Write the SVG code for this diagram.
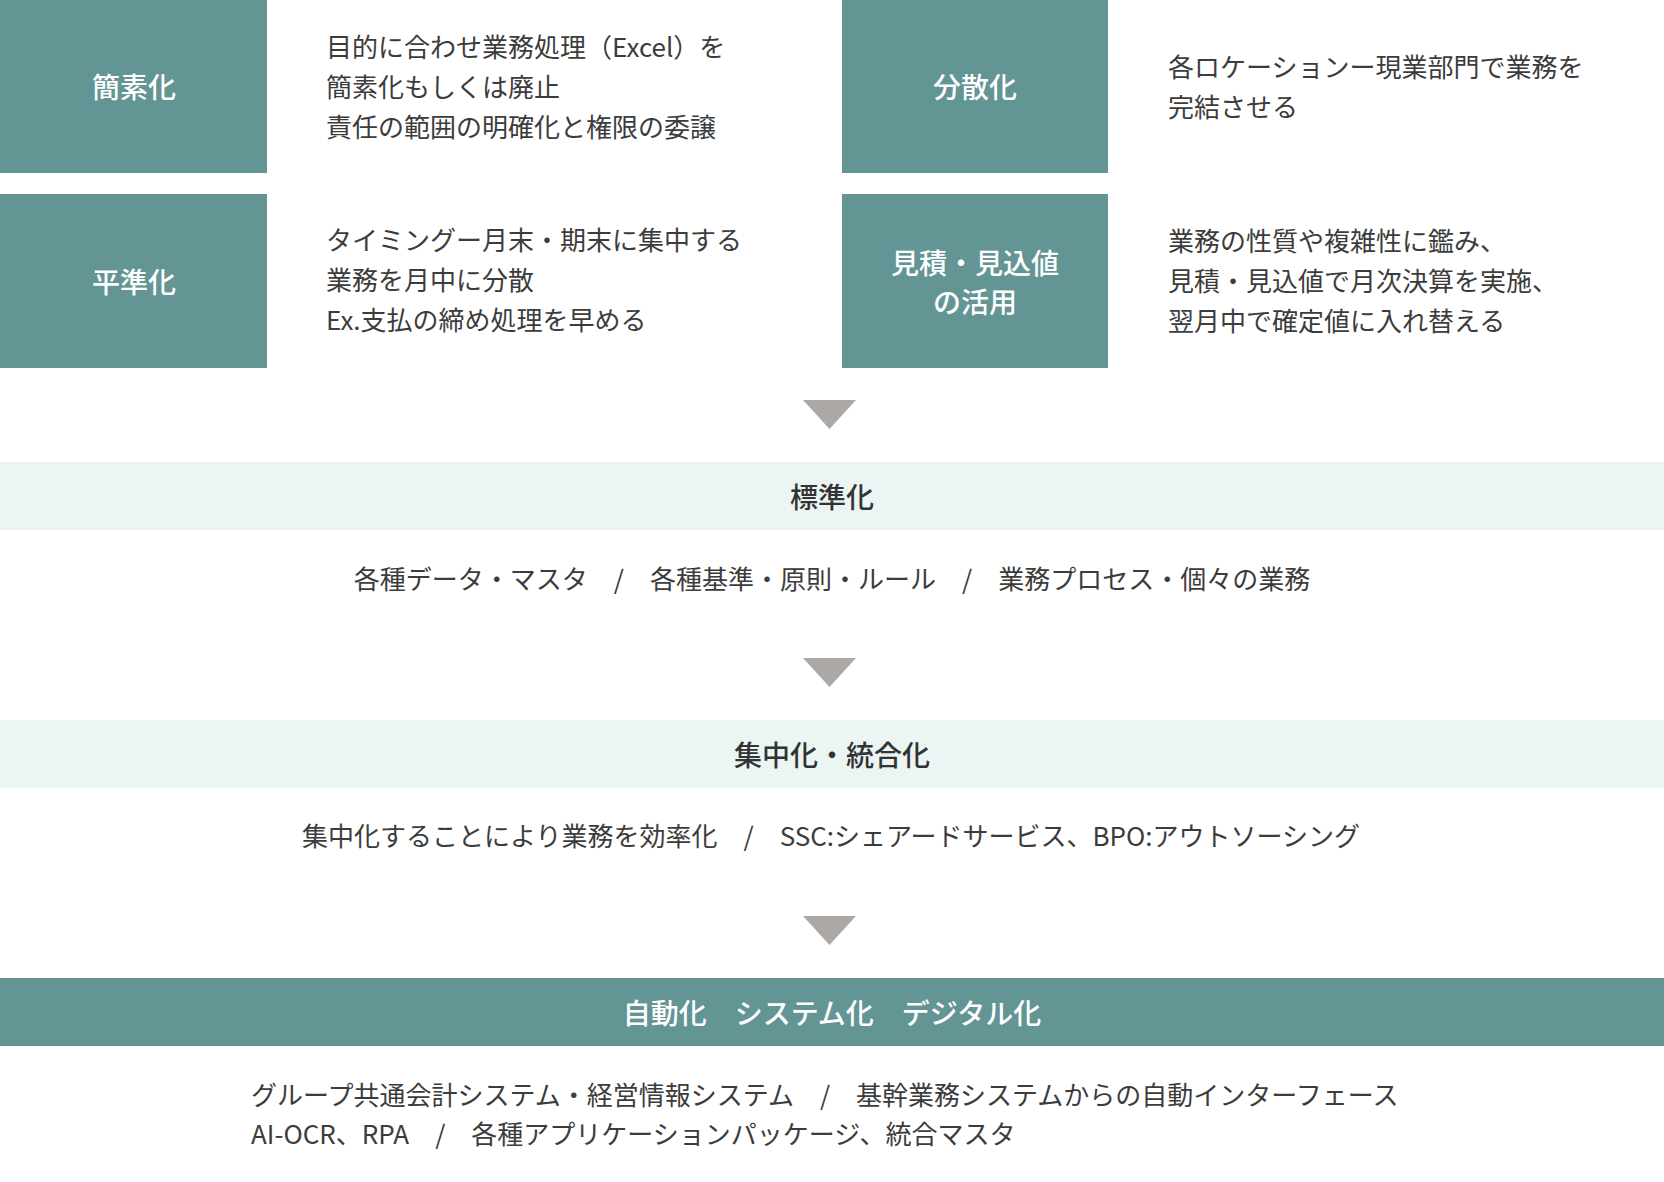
<svg xmlns="http://www.w3.org/2000/svg" width="1664" height="1182" viewBox="0 0 1664 1182">
<style>
text{font-family:"Noto Sans CJK JP","Noto Sans",sans-serif;}
.box{fill:#629593;}
.band{fill:#eaf5f4;}
.dband{fill:#629593;}
.arrow{fill:#aba8a5;}
.lbl{font-size:28px;font-weight:500;fill:#ffffff;text-anchor:middle;}
.ttl{font-size:28px;font-weight:500;fill:#333333;text-anchor:middle;}
.body{font-size:26px;fill:#3c3c3c;}
.ctr{text-anchor:middle;}
</style>
<rect width="1664" height="1182" fill="#ffffff"/>

<g id="node-kanso">
<rect class="box" x="0" y="0" width="267" height="173"/>
<text class="lbl" x="134" y="98">簡素化</text>
<text class="body" x="326" y="57">目的に合わせ業務処理（Excel）を</text>
<text class="body" x="326" y="97">簡素化もしくは廃止</text>
<text class="body" x="326" y="137">責任の範囲の明確化と権限の委譲</text>
</g>

<g id="node-heijun">
<rect class="box" x="0" y="194" width="267" height="174"/>
<text class="lbl" x="134" y="293">平準化</text>
<text class="body" x="326" y="250">タイミングー月末・期末に集中する</text>
<text class="body" x="326" y="290">業務を月中に分散</text>
<text class="body" x="326" y="330">Ex.支払の締め処理を早める</text>
</g>

<g id="node-bunsan">
<rect class="box" x="842" y="0" width="266" height="173"/>
<text class="lbl" x="975" y="98">分散化</text>
<text class="body" x="1168" y="77">各ロケーションー現業部門で業務を</text>
<text class="body" x="1168" y="117">完結させる</text>
</g>

<g id="node-mitsumori">
<rect class="box" x="842" y="194" width="266" height="174"/>
<text class="lbl" x="975" y="274">見積・見込値</text>
<text class="lbl" x="975" y="313">の活用</text>
<text class="body" x="1168" y="251">業務の性質や複雑性に鑑み、</text>
<text class="body" x="1168" y="291">見積・見込値で月次決算を実施、</text>
<text class="body" x="1168" y="331">翌月中で確定値に入れ替える</text>
</g>

<g id="node-hyoujun">
<rect class="band" x="0" y="462" width="1664" height="68"/>
<text class="ttl" x="832" y="508">標準化</text>
<text class="body ctr" x="832" y="589">各種データ・マスタ　/　各種基準・原則・ルール　/　業務プロセス・個々の業務</text>
</g>

<g id="node-shuchu">
<rect class="band" x="0" y="720" width="1664" height="68"/>
<text class="ttl" x="832" y="766">集中化・統合化</text>
<text class="body ctr" x="831" y="846">集中化することにより業務を効率化　/　SSC:シェアードサービス、BPO:アウトソーシング</text>
</g>

<g id="node-jidou">
<rect class="dband" x="0" y="978" width="1664" height="68"/>
<text class="lbl" x="832" y="1024">自動化　システム化　デジタル化</text>
<text class="body" x="251" y="1105">グループ共通会計システム・経営情報システム　/　基幹業務システムからの自動インターフェース</text>
<text class="body" x="251" y="1144">AI-OCR、RPA　/　各種アプリケーションパッケージ、統合マスタ</text>
</g>

<g id="connectors">
<polygon class="arrow" points="803,400 856,400 829.5,429"/>
<polygon class="arrow" points="803,658 856,658 829.5,687"/>
<polygon class="arrow" points="803,916 856,916 829.5,945"/>
</g>
</svg>
